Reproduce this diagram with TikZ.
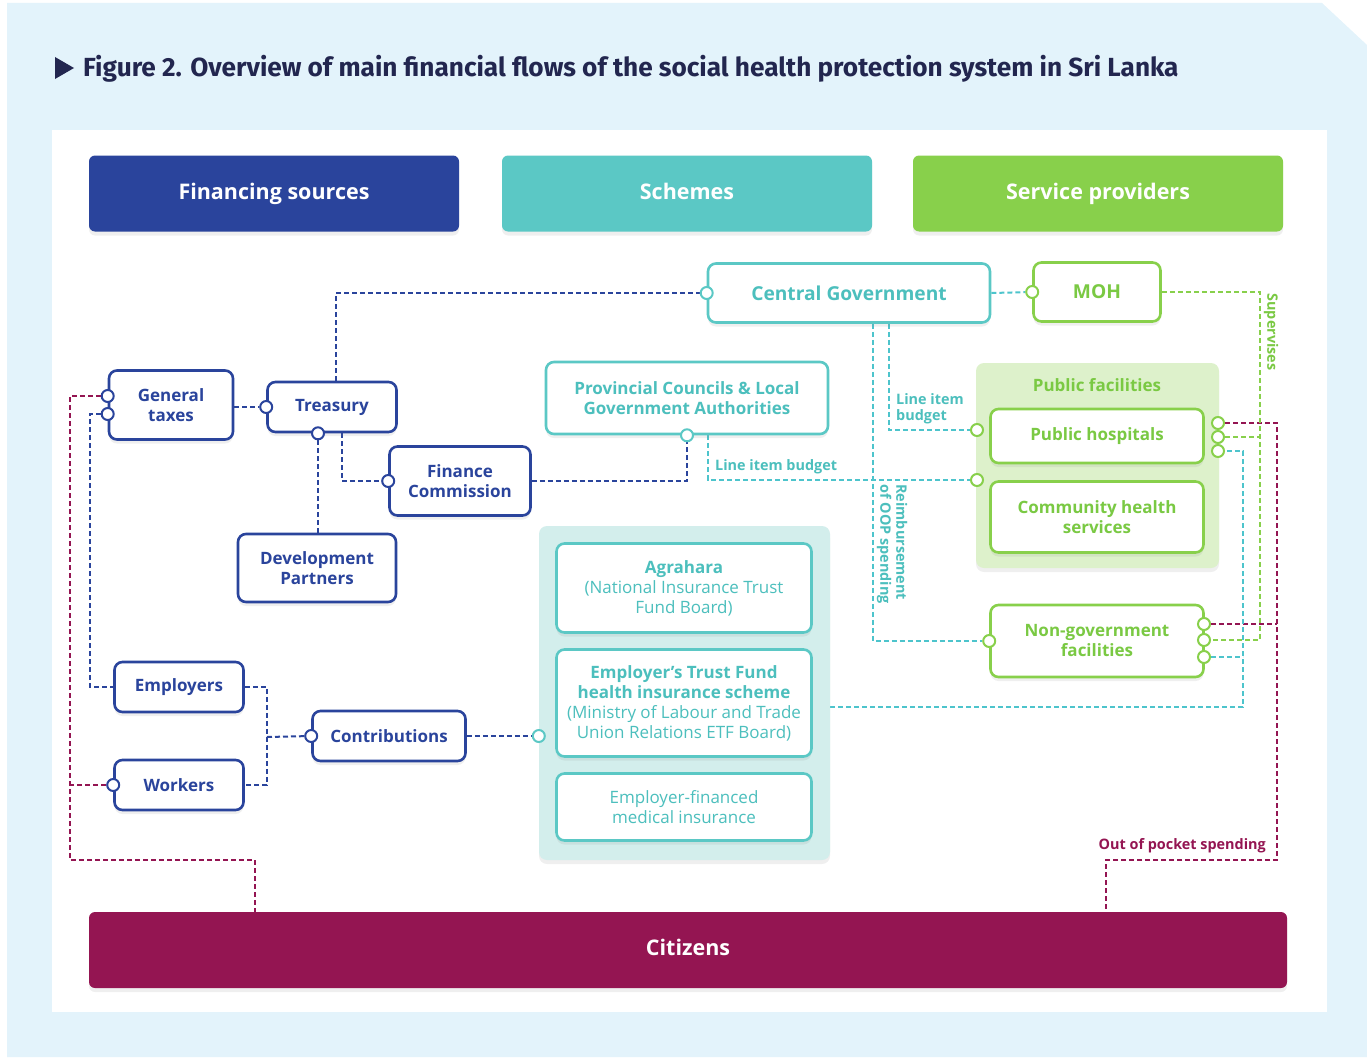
\documentclass[tikz,border=0pt]{standalone}
\usepackage{fontspec}
\setmainfont{Open Sans}
\newfontfamily\titlefont{Fira Sans}
\usetikzlibrary{positioning, calc, shadows}

\definecolor{fsblue}{HTML}{2A449C}
\definecolor{schteal}{HTML}{5BC8C5}
\definecolor{tealtxt}{HTML}{4CBFBD}
\definecolor{tealline}{HTML}{4DC4CC}
\definecolor{spgreen}{HTML}{88D04B}
\definecolor{greentxt}{HTML}{7AC943}
\definecolor{citmag}{HTML}{941552}
\definecolor{pagebg}{HTML}{E3F3FB}
\definecolor{pfgroup}{HTML}{DDF1CB}
\definecolor{schgroup}{HTML}{D3EEEC}
\definecolor{titleblue}{HTML}{22264F}

\pgfdeclarelayer{back}
\pgfdeclarelayer{wires}
\pgfsetlayers{back,wires,main}

\begin{document}
\begin{tikzpicture}[
            x=1pt, y=-1pt,
            font=\fontsize{17}{20}\selectfont,
            flow/.style   ={line width=2pt, dash pattern=on 5pt off 3pt},
            softshadow/.style={drop shadow={opacity=0.12, shadow xshift=0pt, shadow yshift=-4pt}},
            box/.style    ={draw, line width=2.6pt, rounded corners=8pt, fill=white, align=center,
                    inner sep=2pt, font=\fontsize{17}{20}\selectfont\bfseries, softshadow},
            fsbox/.style  ={box, draw=fsblue, text=fsblue},
            schbox/.style ={box, draw=schteal, text=tealtxt},
            spbox/.style  ={box, draw=spgreen, text=greentxt},
            bar/.style    ={rounded corners=6pt, minimum height=76pt, text=white, text height=15pt, text depth=4pt,
                    font=\fontsize{21.5}{26}\selectfont\bfseries, softshadow},
            grp/.style    ={rounded corners=8pt, inner sep=0pt, softshadow},
            port/.style   ={circle, draw, fill=white, line width=2pt, minimum size=12pt, inner sep=0pt},
            lbl/.style    ={font=\fontsize{14.4}{16}\selectfont\bfseries, inner sep=1pt, align=left}
        ]
        \useasboundingbox (0,0) rectangle (1367,1057);

        %% --- page and panel ---
        \begin{pgfonlayer}{back}
            \fill[pagebg] (7,3) -- (1322,3) -- (1367,45) -- (1367,1057) -- (7,1057) -- cycle;
            \fill[white] (52,130) rectangle (1327,1012);
        \end{pgfonlayer}

        % title line
        \fill[titleblue] (55,57) -- (74,68) -- (55,79) -- cycle;
        \node[anchor=base west, inner sep=0pt, text=titleblue, font=\titlefont\fontsize{26.2}{30}\selectfont\bfseries]
              (title) at (83,77) {Figure 2. Overview of main financial flows of the social health protection system in Sri Lanka};

        %% --- column headers and citizens bar ---
        \node[bar, fill=fsblue, minimum width=370pt]   (finsrc)   at (274,193.5)  {Financing sources};
        \node[bar, fill=schteal, minimum width=370pt]  (schemes)  at (687,193.5)  {Schemes};
        \node[bar, fill=spgreen, minimum width=370pt]  (servprov) at (1098,193.5) {Service providers};
        \node[bar, fill=citmag, minimum width=1198pt]  (citizens) at (688,950)    {Citizens};

        %% --- group panels ---
        \node[grp, fill=pfgroup, minimum width=243pt, minimum height=205pt]  (pfgrp)  at (1097.5,465.5) {};
        \node[grp, fill=schgroup, minimum width=291pt, minimum height=334pt] (schgrp) at (684.5,693) {};
        \node[font=\fontsize{17}{20}\selectfont\bfseries, text=greentxt] (pflbl) at (1097,385) {Public facilities};

        %% --- financing sources (blue) ---
        \node[fsbox, minimum width=124pt, minimum height=69pt] (gentax)  at (171,405) {General\\taxes};
        \node[fsbox, minimum width=129pt, minimum height=50pt] (treas)   at (332,407) {Treasury};
        \node[fsbox, minimum width=141pt, minimum height=69pt] (fincom)  at (460,481) {Finance\\Commission};
        \node[fsbox, minimum width=158pt, minimum height=68pt] (devpart) at (317,568) {Development\\Partners};
        \node[fsbox, minimum width=129pt, minimum height=50pt] (employ)  at (179,687) {Employers};
        \node[fsbox, minimum width=129pt, minimum height=50pt] (workers) at (179,785) {Workers};
        \node[fsbox, minimum width=153pt, minimum height=50pt] (contrib) at (389,736) {Contributions};

        %% --- schemes (teal) ---
        \node[schbox, minimum width=282pt, minimum height=59pt, font=\fontsize{19.2}{22}\selectfont\bfseries]
              (centgov) at (849,293) {Central Government};
        \node[schbox, minimum width=282pt, minimum height=72pt] (provc) at (687,398)
              {Provincial Councils \& Local\\Government Authorities};
        \node[schbox, minimum width=255pt, minimum height=89pt]  (agra)   at (684,588)
              {Agrahara\\\mdseries(National Insurance Trust\\\mdseries Fund Board)};
        \node[schbox, minimum width=255pt, minimum height=107pt] (etf)    at (684,703)
              {Employer’s Trust Fund\\health insurance scheme\\\mdseries(Ministry of Labour and Trade\\\mdseries Union Relations ETF Board)};
        \node[schbox, minimum width=255pt, minimum height=67pt]  (empfin) at (684,807)
              {\mdseries Employer-financed\\\mdseries medical insurance};

        %% --- service providers (green) ---
        \node[spbox, minimum width=127pt, minimum height=59pt, font=\fontsize{19.2}{22}\selectfont\bfseries]
              (moh) at (1097,292) {MOH};
        \node[spbox, minimum width=213pt, minimum height=54pt] (pubhosp) at (1097,436) {Public hospitals};
        \node[spbox, minimum width=213pt, minimum height=71pt] (comm)    at (1097,517) {Community health\\services};
        \node[spbox, minimum width=213pt, minimum height=72pt] (nongov)  at (1097,641) {Non-government\\facilities};

        %% --- ports: small rings where a flow meets a box ---
        \node[port, draw=fsblue]   (gtW1) at ([yshift=9pt]gentax.west) {};
        \node[port, draw=fsblue]   (gtW2) at ([yshift=-9pt]gentax.west) {};
        \node[port, draw=fsblue]   (trW)  at (treas.west) {};
        \node[port, draw=fsblue]   (trS)  at ([xshift=-14pt]treas.south) {};
        \node[port, draw=fsblue]   (fcW)  at (fincom.west) {};
        \node[port, draw=fsblue]   (wkW)  at (workers.west) {};
        \node[port, draw=fsblue]   (ctW)  at (contrib.west) {};
        \node[port, draw=schteal]  (cgW)  at (centgov.west) {};
        \node[port, draw=schteal]  (pcS)  at (provc.south) {};
        \node[port, draw=schteal]  (schW) at (schgrp.west |- contrib.west) {};
        \node[port, draw=spgreen]  (mohW) at (moh.west) {};
        \node[port, draw=spgreen]  (phW)  at (977,430) {};
        \node[port, draw=spgreen]  (chW)  at (977,480) {};
        \node[port, draw=spgreen]  (ngW)  at (nongov.west) {};
        \node[port, draw=spgreen]  (phE1) at (1218,423) {};
        \node[port, draw=spgreen]  (phE2) at (1218,437) {};
        \node[port, draw=spgreen]  (phE3) at (1218,451) {};
        \node[port, draw=spgreen]  (ngE1) at (1204,624) {};
        \node[port, draw=spgreen]  (ngE2) at (1204,640) {};
        \node[port, draw=spgreen]  (ngE3) at (1204,657) {};

        %% --- bend points ---
        \coordinate (blueL) at (90,687);
        \coordinate (cjoin) at (267,737);
        \coordinate (magL)  at (70,860);
        \coordinate (magLx) at (255,860);
        \coordinate (magR)  at (1277,860);
        \coordinate (magRx) at (1106,860);
        \coordinate (grnR)  at (1260,640);
        \coordinate (tealR) at (1243,707);

        \begin{pgfonlayer}{wires}
            %% blue flows
            \draw[flow, fsblue] (gentax.east |- trW) -- (trW);
            \draw[flow, fsblue] ([xshift=4pt]treas.north) |- (cgW);
            \draw[flow, fsblue] (trS) -- (devpart.north -| trS);
            \draw[flow, fsblue] ([xshift=10pt]treas.south) |- (fcW);
            \draw[flow, fsblue] (fincom.east) -| (pcS);
            \draw[flow, fsblue] (gtW2) -| (blueL) -- (employ.west);
            \draw[flow, fsblue] (employ.east) -| (cjoin) |- (workers.east);
            \draw[flow, fsblue] (cjoin) -- (ctW);
            \draw[flow, fsblue] (contrib.east) -- (schW);

            %% out of pocket (magenta)
            \draw[flow, citmag] (gtW1) -| (magL) -- (magLx) -- (magLx |- citizens.north);
            \draw[flow, citmag] (wkW) -- (wkW -| magL);
            \draw[flow, citmag] (phE1) -| (magR) -- (magRx) -- (magRx |- citizens.north);
            \draw[flow, citmag] (ngE1) -- (ngE1 -| magR);

            %% supervision (green)
            \draw[flow, spgreen] (moh.east) -| (grnR) -- (ngE2);
            \draw[flow, spgreen] (phE2) -- (phE2 -| grnR);

            %% scheme payments (teal)
            \draw[flow, tealline] (centgov.east) -- (mohW);
            \draw[flow, tealline] ([xshift=40pt]centgov.south) |- (phW);
            \draw[flow, tealline] ([xshift=24pt]centgov.south) |- (ngW);
            \draw[flow, tealline] ([xshift=21pt]provc.south) |- (chW);
            \draw[flow, tealline] (schgrp.east |- tealR) -- (tealR) |- (phE3);
            \draw[flow, tealline] (ngE3) -- (ngE3 -| tealR);
        \end{pgfonlayer}

        %% --- flow labels ---
        \node[lbl, text=tealtxt, anchor=west]  (libcg)  at (895,409) {Line item\\budget};
        \node[lbl, text=tealtxt, anchor=west]  (libpc)  at (714,467) {Line item budget};
        \node[lbl, text=tealtxt, rotate=-90]   (reimb)  at (892,544) {Reimbursement\\of OOP spending};
        \node[lbl, text=greentxt, rotate=-90]  (superv) at (1271,332) {Supervises};
        \node[lbl, text=citmag, anchor=south east] (ooplbl) at (1267,854) {Out of pocket spending};

    \end{tikzpicture}
\end{document}
